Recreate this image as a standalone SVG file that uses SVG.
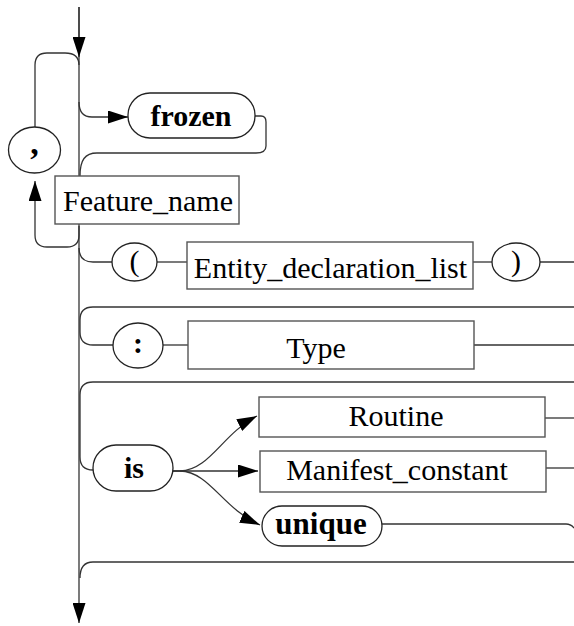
<svg xmlns="http://www.w3.org/2000/svg" width="574" height="626" viewBox="0 0 574 626">
<defs>
<marker id="ah" markerUnits="userSpaceOnUse" markerWidth="21" markerHeight="13" refX="20" refY="6.5" orient="auto">
<path d="M0,0 L20,6.5 L0,13 z" fill="#000"/>
</marker>
<style>
.ln{fill:none;stroke:#333;stroke-width:1.3}
.bx{fill:#fff;stroke:#555;stroke-width:1.4}
.rd{fill:#fff;stroke:#222;stroke-width:1.3}
.t{font-family:"Liberation Serif","Times New Roman",serif;font-size:30px;fill:#000;text-anchor:middle}
.b{font-family:"Liberation Serif","Times New Roman",serif;font-size:30px;font-weight:bold;fill:#000;text-anchor:middle}
</style>
</defs>
<rect width="574" height="626" fill="#fff"/>
<g id="connectors">
<path class="ln" d="M79,7 V623" marker-end="url(#ah)"/>
<path class="ln" d="M79,7 V57" marker-end="url(#ah)"/>
<path class="ln" d="M79,226 V235 Q79,247 67,247 H47 Q35,247 35,235 V181" marker-end="url(#ah)"/>
<path class="ln" d="M35,127 V65 Q35,53 47,53 H65 Q79,53 79,65"/>
<path class="ln" d="M79,102 Q79,117 92,117 H128" marker-end="url(#ah)"/>
<path class="ln" d="M254,116 H261 Q266,116 266,122 V146 Q266,153 256,153 H97 C85,153 80,160 80,176"/>
<path class="ln" d="M79,248 Q79,262 93,262 H112"/>
<path class="ln" d="M157,262 H187"/>
<path class="ln" d="M473,262 H492"/>
<path class="ln" d="M540,262 H574"/>
<path class="ln" d="M574,307 H93 Q80,307 80,320 V332 Q80,345 93,345 H113"/>
<path class="ln" d="M163,345 H188"/>
<path class="ln" d="M474,345 H574"/>
<path class="ln" d="M574,382 H93 Q80,382 80,395 V457 Q80,470 93,470"/>
<path class="ln" d="M173,471 H180 C210,470 222,434 257,416" marker-end="url(#ah)"/>
<path class="ln" d="M173,471 H258" marker-end="url(#ah)"/>
<path class="ln" d="M180,471 C210,472 222,508 260,525" marker-end="url(#ah)"/>
<path class="ln" d="M545,418 H574"/>
<path class="ln" d="M546,468 H574"/>
<path class="ln" d="M382,524 H566 Q571,524 574,528"/>
<path class="ln" d="M574,562 H93 Q80,562 80,578"/>
</g>
<g id="comma">
<ellipse class="rd" cx="34.5" cy="150" rx="26" ry="23"/>
<text class="b" x="34.5" y="154" style="font-size:34px">,</text>
</g>
<g id="frozen">
<rect class="rd" x="128" y="93" width="127" height="45" rx="22"/>
<text class="b" x="191" y="126">frozen</text>
</g>
<g id="feature_name">
<rect class="bx" x="55" y="176" width="184" height="48"/>
<text class="t" x="148" y="211">Feature_name</text>
</g>
<g id="lparen">
<ellipse class="rd" cx="134.5" cy="262" rx="22.5" ry="19"/>
<text class="t" x="134.5" y="271">(</text>
</g>
<g id="entity_declaration_list">
<rect class="bx" x="187" y="242" width="286" height="47"/>
<text class="t" x="330.5" y="278">Entity_declaration_list</text>
</g>
<g id="rparen">
<ellipse class="rd" cx="516" cy="262" rx="24" ry="19"/>
<text class="t" x="516" y="271">)</text>
</g>
<g id="colon">
<ellipse class="rd" cx="138" cy="345.5" rx="25" ry="22.5"/>
<text class="b" x="138" y="353">:</text>
</g>
<g id="type">
<rect class="bx" x="188" y="321" width="286" height="48"/>
<text class="t" x="316" y="358">Type</text>
</g>
<g id="is">
<rect class="rd" x="93" y="445" width="80" height="46" rx="23"/>
<text class="b" x="134" y="478">is</text>
</g>
<g id="routine">
<rect class="bx" x="259" y="397" width="286" height="40"/>
<text class="t" x="396" y="426">Routine</text>
</g>
<g id="manifest_constant">
<rect class="bx" x="260" y="451" width="286" height="41"/>
<text class="t" x="397" y="480">Manifest_constant</text>
</g>
<g id="unique">
<rect class="rd" x="262" y="506" width="120" height="40" rx="20"/>
<text class="b" x="321" y="534" style="font-size:31px">unique</text>
</g>
</svg>
